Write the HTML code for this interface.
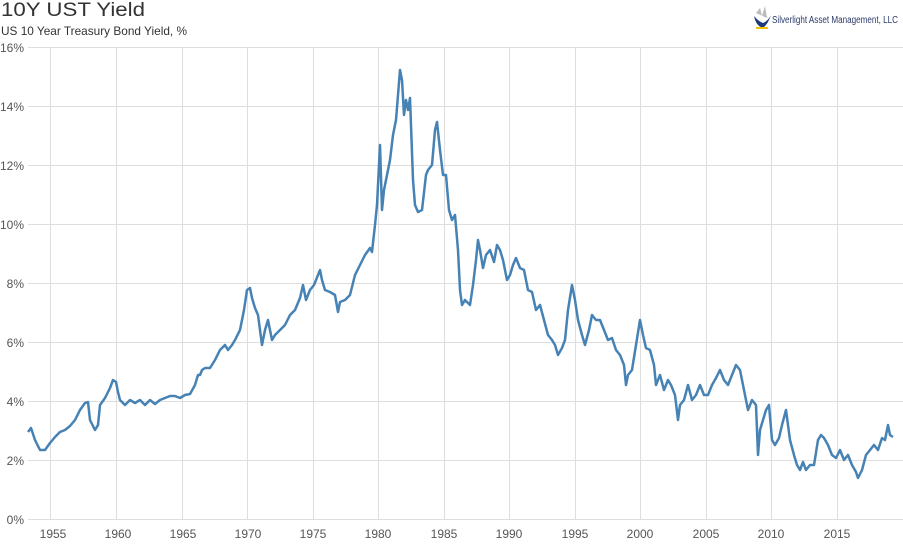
<!DOCTYPE html>
<html><head><meta charset="utf-8"><style>
body{margin:0;background:#fff;font-family:"Liberation Sans",Arial,sans-serif}
</style></head><body>
<svg width="903" height="542" viewBox="0 0 903 542" xmlns="http://www.w3.org/2000/svg" font-family="Liberation Sans, Arial, sans-serif">
<rect width="903" height="542" fill="#fff"/>
<text x="1" y="16" font-size="19" fill="#333" textLength="144" lengthAdjust="spacingAndGlyphs">10Y UST Yield</text>
<text x="1" y="35" font-size="12" fill="#333" textLength="186" lengthAdjust="spacingAndGlyphs">US 10 Year Treasury Bond Yield, %</text>
<g>
<path d="M756 13 L760 8 L762 16 L765 6 L767 18 Z" fill="#bbb"/>
<path d="M754 16 Q756 26 763 28 Q768 24 771 15 Q768 21 763 23 Q758 21 754 16Z" fill="#1a3a7a"/>
<rect x="756" y="27" width="12" height="2" fill="#f2c200"/>
<text x="772" y="23" font-size="10" fill="#2a3a6a" textLength="126" lengthAdjust="spacingAndGlyphs">Silverlight Asset Management, LLC</text>
</g>
<g stroke="#dedede" stroke-width="1">
<line x1="28" y1="47.5" x2="903" y2="47.5"/><line x1="28" y1="106.5" x2="903" y2="106.5"/>
<line x1="28" y1="165.5" x2="903" y2="165.5"/><line x1="28" y1="224.5" x2="903" y2="224.5"/>
<line x1="28" y1="283.5" x2="903" y2="283.5"/><line x1="28" y1="342.5" x2="903" y2="342.5"/>
<line x1="28" y1="401.5" x2="903" y2="401.5"/><line x1="28" y1="460.5" x2="903" y2="460.5"/>
<line x1="28" y1="519.5" x2="903" y2="519.5"/>
<line x1="50.5" y1="47" x2="50.5" y2="519"/><line x1="116.5" y1="47" x2="116.5" y2="519"/>
<line x1="182.5" y1="47" x2="182.5" y2="519"/><line x1="247.5" y1="47" x2="247.5" y2="519"/>
<line x1="313.5" y1="47" x2="313.5" y2="519"/><line x1="378.5" y1="47" x2="378.5" y2="519"/>
<line x1="444.5" y1="47" x2="444.5" y2="519"/><line x1="509.5" y1="47" x2="509.5" y2="519"/>
<line x1="575.5" y1="47" x2="575.5" y2="519"/><line x1="640.5" y1="47" x2="640.5" y2="519"/>
<line x1="706.5" y1="47" x2="706.5" y2="519"/><line x1="771.5" y1="47" x2="771.5" y2="519"/>
<line x1="837.5" y1="47" x2="837.5" y2="519"/>
</g>
<g font-size="12" fill="#555" text-anchor="end">
<text x="24" y="52">16%</text><text x="24" y="111">14%</text><text x="24" y="170">12%</text>
<text x="24" y="229">10%</text><text x="24" y="288">8%</text><text x="24" y="347">6%</text>
<text x="24" y="406">4%</text><text x="24" y="465">2%</text><text x="24" y="524">0%</text>
</g>
<g font-size="12" fill="#555" text-anchor="middle">
<text x="53" y="538">1955</text><text x="118" y="538">1960</text><text x="183" y="538">1965</text>
<text x="248" y="538">1970</text><text x="313" y="538">1975</text><text x="378" y="538">1980</text>
<text x="444" y="538">1985</text><text x="509" y="538">1990</text><text x="575" y="538">1995</text>
<text x="640" y="538">2000</text><text x="706" y="538">2005</text><text x="771" y="538">2010</text>
<text x="837" y="538">2015</text>
</g>
<polyline fill="none" stroke="#4682b4" stroke-width="2.5" stroke-linejoin="round" points="28,432 31,428 35,440 40,450 45,450 50,443 55,437 60,432 65,430 70,426 75,420 80,410 85,403 88,402 90,420 95,430 98,425 100,405 105,398 110,388 113,380 116,382 118,392 120,400 125,405 130,400 135,403 140,400 145,405 150,400 155,404 160,400 165,398 170,396 175,396 180,398 185,395 190,394 195,385 198,375 200,375 202,370 205,368 210,368 215,360 220,350 225,345 228,350 232,345 235,340 240,330 244,310 247,290 250,288 252,298 255,308 258,315 262,345 265,330 268,320 272,340 275,335 280,330 285,325 290,315 295,310 300,298 303,285 306,300 310,290 314,285 318,275 320,270 322,280 325,290 330,292 335,295 338,312 340,302 345,300 350,295 355,275 360,265 365,255 370,248 372,252 375,225 377,205 380,145 382,210 384,190 387,175 390,160 393,135 396,120 400,70 402,80 404,115 406,100 408,110 410,98 413,180 415,205 418,212 422,210 426,175 428,170 432,165 435,130 437,122 440,150 443,175 446,175 449,210 452,220 455,215 458,250 460,290 462,305 465,300 470,305 473,285 476,260 478,240 480,250 483,268 486,255 490,250 494,262 497,245 500,250 503,260 507,280 510,275 513,265 516,258 520,268 524,270 528,290 532,292 536,310 540,305 544,320 548,335 552,340 555,345 558,355 562,348 565,340 568,310 572,285 575,300 578,320 582,335 585,345 589,330 592,315 596,320 600,320 604,330 608,340 612,338 616,350 620,355 624,365 626,385 628,375 632,370 636,345 640,320 643,335 646,348 650,350 654,365 656,385 660,375 664,390 668,380 671,385 675,395 678,420 680,405 684,400 688,385 692,400 696,395 700,385 704,395 708,395 712,385 716,378 720,370 724,380 728,385 732,375 736,365 740,370 744,390 748,410 752,400 756,405 758,455 760,430 763,420 766,410 769,405 772,440 775,445 779,438 782,425 786,410 790,440 794,455 797,465 800,470 803,462 806,470 810,465 814,465 818,440 821,435 824,438 828,445 832,455 836,458 840,450 844,460 848,455 852,465 856,472 858,478 862,470 866,455 870,450 874,445 878,450 882,438 885,440 888,425 890,435 893,437"/>
</svg>
</body></html>
